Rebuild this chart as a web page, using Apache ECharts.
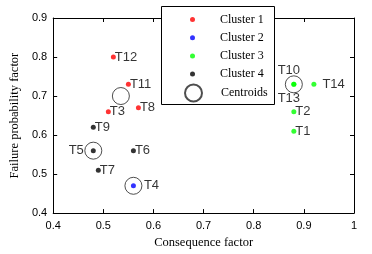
<!DOCTYPE html>
<html><head><meta charset="utf-8">
<script src="https://cdn.jsdelivr.net/npm/echarts@6/dist/echarts.min.js"></script>
<style>html,body{margin:0;padding:0;background:#fff}#c{width:372px;height:254px}</style>
</head><body><div id="c"></div>
<script>
// ---- data ----
const cluster1Names = ['T12', 'T11', 'T3', 'T8'];
const cluster1X = [0.52, 0.55, 0.51, 0.57];
const cluster1Y = [0.80, 0.73, 0.66, 0.67];

const cluster2Names = ['T4'];
const cluster2X = [0.56];
const cluster2Y = [0.47];

const cluster3Names = ['T10', 'T13', 'T14', 'T2', 'T1'];
const cluster3X = [0.88, 0.88, 0.92, 0.88, 0.88];
const cluster3Y = [0.73, 0.73, 0.73, 0.66, 0.61];

const cluster4Names = ['T9', 'T5', 'T6', 'T7'];
const cluster4X = [0.48, 0.48, 0.56, 0.49];
const cluster4Y = [0.62, 0.56, 0.56, 0.51];

const centroidX = [0.535, 0.56, 0.88, 0.48];
const centroidY = [0.70, 0.47, 0.73, 0.56];

const xTicks = [0.4, 0.5, 0.6, 0.7, 0.8, 0.9, 1];
const yTicks = [0.4, 0.5, 0.6, 0.7, 0.8, 0.9];

// ---- label placement (style only) ----
const labelStyle = {
  T10: {position: 'inside', offset: [-5, -14]},
  T13: {position: 'inside', offset: [-5, 14]},
  T14: {position: 'right', distance: 6},
  T5: {position: 'left', distance: 7},
  T4: {position: 'right', distance: 8}
};

function pts(names, xs, ys) {
  return names.map((n, i) => {
    const ls = labelStyle[n] || {position: 'right', distance: -1};
    return {name: n, value: [xs[i], ys[i]], label: Object.assign({show: true, formatter: n}, ls)};
  });
}

const labelFont = {fontFamily: 'Liberation Sans', fontSize: 13, color: '#000'};
function clusterSeries(name, color, data) {
  return {
    name: name, type: 'scatter', symbol: 'circle', symbolSize: 5,
    itemStyle: {color: color}, data: data,
    label: Object.assign({show: true}, labelFont),
    emphasis: {disabled: true}, z: 3
  };
}

const chart = echarts.init(document.getElementById('c'), null, {renderer: 'canvas'});
const axisCommon = {
  type: 'value', min: 0.4, interval: 0.1,
  axisLine: {show: true, onZero: false, lineStyle: {color: '#000', width: 1}},
  axisTick: {show: true, inside: true, length: 4, lineStyle: {color: '#000'}},
  splitLine: {show: false}
};
const tickFont = {fontFamily: 'Liberation Sans', fontSize: 11, color: '#000'};
const titleFont = {fontFamily: 'Liberation Serif', fontSize: 12.5, color: '#000'};

chart.setOption({
  animation: false,
  grid: {left: 52, right: 18, top: 18, bottom: 40},
  xAxis: [
    Object.assign({}, axisCommon, {max: 1, position: 'bottom', name: 'Consequence factor',
      nameLocation: 'middle', nameGap: 22, nameTextStyle: titleFont,
      axisLabel: Object.assign({margin: 7, formatter: v => String(+v.toFixed(1))}, tickFont)}),
    Object.assign({}, axisCommon, {max: 1, position: 'top', axisLabel: {show: false}})
  ],
  yAxis: [
    Object.assign({}, axisCommon, {max: 0.9, position: 'left', name: 'Failure probability factor',
      nameLocation: 'middle', nameGap: 31, nameTextStyle: titleFont,
      axisLabel: Object.assign({margin: 6, formatter: v => String(+v.toFixed(1))}, tickFont)}),
    Object.assign({}, axisCommon, {max: 0.9, position: 'right', axisLabel: {show: false}})
  ],
  legend: [
    {
      data: ['Cluster 1', 'Cluster 2', 'Cluster 3', 'Cluster 4'],
      orient: 'vertical', left: 190, top: 13.5, padding: 0, z: 20,
      itemWidth: 5, itemHeight: 5, itemGap: 6.2, icon: 'circle',
      textStyle: {fontFamily: 'Liberation Serif', fontSize: 12, color: '#000', padding: [0, 0, 0, 20]},
      selectedMode: false
    },
    {
      data: ['Centroids'],
      orient: 'vertical', left: 184, top: 83.5, padding: 0, z: 20,
      itemWidth: 17, itemHeight: 17, icon: 'circle',
      textStyle: {fontFamily: 'Liberation Serif', fontSize: 12, color: '#000', padding: [0, 0, 0, 14]},
      selectedMode: false
    }
  ],
  graphic: [{
    type: 'rect', left: 161, top: 6, z: 15, silent: true,
    shape: {width: 113, height: 98},
    style: {fill: '#fff', stroke: '#000', lineWidth: 1}
  }],
  series: [
    clusterSeries('Cluster 1', '#ff0000', pts(cluster1Names, cluster1X, cluster1Y)),
    clusterSeries('Cluster 2', '#0000ff', pts(cluster2Names, cluster2X, cluster2Y)),
    clusterSeries('Cluster 3', '#00ff00', pts(cluster3Names, cluster3X, cluster3Y)),
    clusterSeries('Cluster 4', '#000000', pts(cluster4Names, cluster4X, cluster4Y)),
    {
      name: 'Centroids', type: 'scatter', symbol: 'circle', symbolSize: 17,
      itemStyle: {color: 'rgba(0,0,0,0)', borderColor: '#222', borderWidth: 1},
      data: centroidX.map((x, i) => [x, centroidY[i]]),
      emphasis: {disabled: true}, z: 2
    }
  ]
});
</script></body></html>
